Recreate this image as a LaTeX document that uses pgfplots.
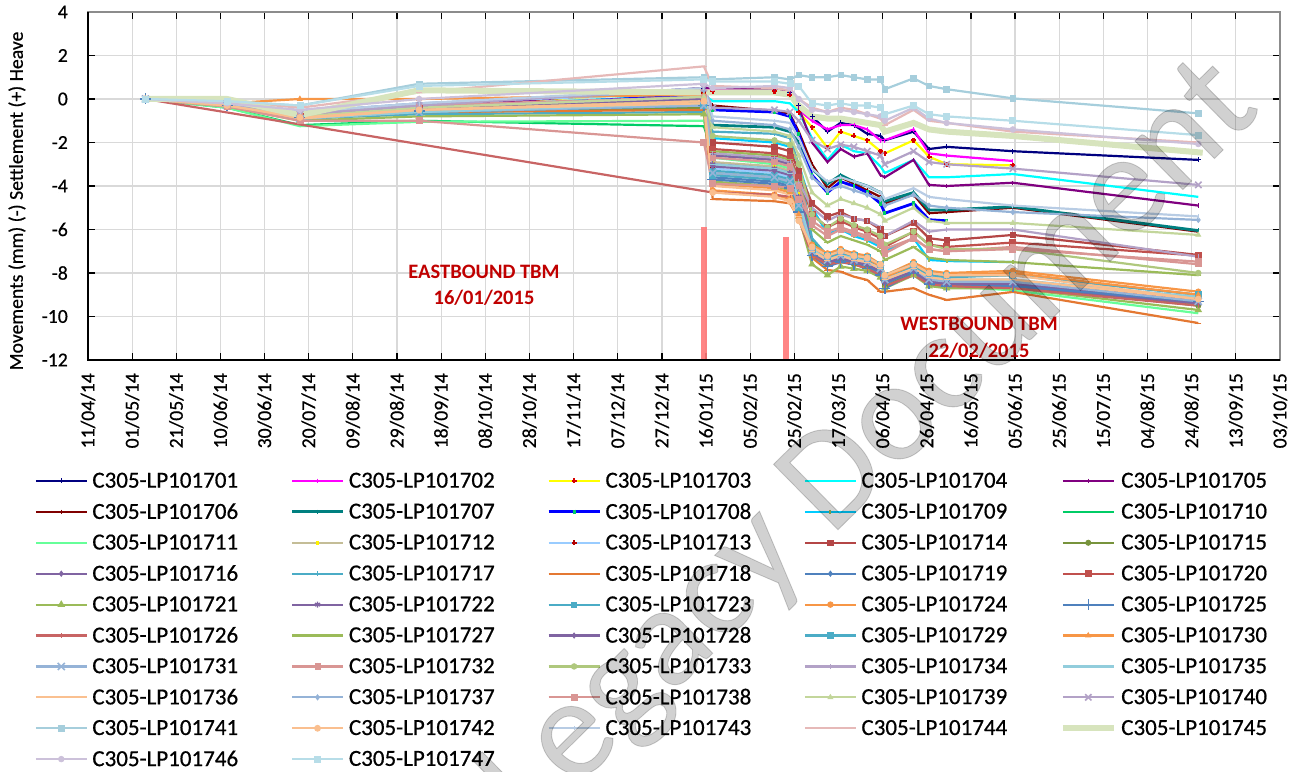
\documentclass[border=0pt]{standalone}
\usepackage{fontspec}
\setmainfont{Carlito}[UprightFeatures={FakeBold=0.6}]
\usepackage{pgfplots}
\pgfplotsset{compat=1.18}
\definecolor{c01}{RGB}{0,0,128}
\definecolor{c02}{RGB}{255,0,255}
\definecolor{c03}{RGB}{255,255,0}
\definecolor{c04}{RGB}{0,255,255}
\definecolor{c05}{RGB}{128,0,128}
\definecolor{c06}{RGB}{128,0,0}
\definecolor{c07}{RGB}{0,128,128}
\definecolor{c08}{RGB}{0,0,255}
\definecolor{c09}{RGB}{0,204,255}
\definecolor{c10}{RGB}{0,204,102}
\definecolor{c11}{RGB}{102,255,153}
\definecolor{c12}{RGB}{196,189,151}
\definecolor{c13}{RGB}{153,204,255}
\definecolor{c14}{RGB}{180,70,70}
\definecolor{c15}{RGB}{119,147,60}
\definecolor{c16}{RGB}{128,100,162}
\definecolor{c17}{RGB}{75,172,198}
\definecolor{c18}{RGB}{228,120,50}
\definecolor{c19}{RGB}{79,129,189}
\definecolor{c20}{RGB}{192,80,77}
\definecolor{c21}{RGB}{155,187,89}
\definecolor{c22}{RGB}{128,100,162}
\definecolor{c23}{RGB}{75,172,198}
\definecolor{c24}{RGB}{247,150,70}
\definecolor{c25}{RGB}{79,129,189}
\definecolor{c26}{RGB}{200,100,100}
\definecolor{c27}{RGB}{155,187,89}
\definecolor{c28}{RGB}{128,100,162}
\definecolor{c29}{RGB}{75,172,198}
\definecolor{c30}{RGB}{247,150,70}
\definecolor{c31}{RGB}{149,179,215}
\definecolor{c32}{RGB}{217,150,148}
\definecolor{c33}{RGB}{175,200,125}
\definecolor{c34}{RGB}{179,162,199}
\definecolor{c35}{RGB}{146,205,220}
\definecolor{c36}{RGB}{250,192,144}
\definecolor{c37}{RGB}{149,179,215}
\definecolor{c38}{RGB}{217,150,148}
\definecolor{c39}{RGB}{195,214,155}
\definecolor{c40}{RGB}{179,162,199}
\definecolor{c41}{RGB}{166,206,220}
\definecolor{c42}{RGB}{250,191,143}
\definecolor{c43}{RGB}{184,204,228}
\definecolor{c44}{RGB}{230,185,184}
\definecolor{c45}{RGB}{215,228,189}
\definecolor{c46}{RGB}{204,193,218}
\definecolor{c47}{RGB}{183,221,232}
\definecolor{gridc}{RGB}{217,217,217}
\definecolor{framec}{RGB}{140,140,140}
\definecolor{annot}{RGB}{192,0,0}
\definecolor{tbm}{RGB}{255,120,120}
\begin{document}
\begin{tikzpicture}[x=1pt,y=1pt]
\useasboundingbox (0,0) rectangle (1300,771);
\begin{axis}[
  at={(88pt,411pt)}, anchor=south west,
  scale only axis, width=1192pt, height=348pt,
  xmin=0, xmax=540, ymin=-12, ymax=4,
  xtick={0,20,...,540},
  xticklabels={11/04/14,01/05/14,21/05/14,10/06/14,30/06/14,20/07/14,09/08/14,29/08/14,18/09/14,08/10/14,28/10/14,17/11/14,07/12/14,27/12/14,16/01/15,05/02/15,25/02/15,17/03/15,06/04/15,26/04/15,16/05/15,05/06/15,25/06/15,15/07/15,04/08/15,24/08/15,13/09/15,03/10/15},
  ytick={-12,-10,...,4},
  yticklabels={-12,-10,-8,-6,-4,-2,0,2,4},
  grid=major,
  major grid style={draw=gridc, line width=1.2pt},
  tick align=inside, major tick length=7pt,
  tick style={draw=black, line width=1.2pt},
  axis line style={draw=framec, line width=1.5pt},
  xticklabel style={rotate=90, anchor=east, inner sep=0pt, font=\fontsize{19.7}{22}\selectfont},
  xticklabel shift=13pt,
  yticklabel style={anchor=east, inner sep=0pt, font=\fontsize{19.7}{22}\selectfont},
  yticklabel shift=20pt,
  ylabel={Movements (mm) (-) Settlement (+) Heave},
  every axis y label/.style={at={(axis description cs:-0.0596,0.457)}, rotate=90, anchor=center, font=\fontsize{19.7}{22}\selectfont},
  legend columns=5,
  legend cell align=left,
  legend style={at={(axis description cs:-0.0449,-0.319)}, anchor=north west, draw=none, fill=none, inner sep=0pt,
    font=\fontsize{23}{27}\selectfont, row sep=11.1pt, nodes={inner sep=1.5pt},
    /tikz/every odd column/.append style={column sep=3pt},
    /tikz/every even column/.append style={column sep=51pt}},
  legend image code/.code={\draw[mark repeat=2,mark phase=2,#1] plot coordinates {(0pt,0pt) (25.5pt,0pt) (51pt,0pt)};},
  every axis plot/.append style={line width=2.2pt, mark size=2.2pt, every mark/.append style={line width=0.8pt, solid}},
]
\addplot[c01, mark=+, mark size=2.5pt] coordinates {(26,0)(63,-0.2)(96,-0.7)(150,-0.3)(279,0.5)(283,0.5)(311,0.5)(318,0.3)(322,-0.3)(328,-0.8)(335,-1.5)(341,-1.1)(347,-1.2)(353,-1.6)(359,-1.7)(361,-1.9)(374,-1.5)(381,-2.3)(389,-2.2)(419,-2.4)(503,-2.8)};
\addlegendentry{C305-LP101701}
\addplot[c02, mark=|] coordinates {(26,0)(63,-0.2)(96,-0.7)(150,-0.3)(279,0.45)(283,0.45)(311,0.45)(318,0.3)(322,-0.5)(328,-1.0)(335,-1.4)(341,-1.2)(347,-1.2)(353,-1.4)(359,-1.9)(361,-1.9)(374,-1.4)(381,-2.5)(389,-2.6)(419,-2.85)};
\addlegendentry{C305-LP101702}
\addplot[c03, mark=+, mark size=2.5pt, mark options={draw=red!85!black}] coordinates {(26,0)(63,-0.25)(96,-0.75)(150,-0.35)(279,0.4)(283,0.35)(311,0.35)(318,0.2)(322,-0.6)(328,-1.3)(335,-2.25)(341,-1.5)(347,-1.7)(353,-1.9)(359,-2.4)(361,-2.5)(374,-1.9)(381,-2.65)(389,-3.0)(419,-3.05)};
\addlegendentry{C305-LP101703}
\addplot[c04, no markers] coordinates {(26,0)(63,-0.25)(96,-0.8)(150,-0.4)(279,0.2)(283,-0.1)(311,-0.1)(318,-0.2)(322,-0.6)(328,-1.8)(335,-2.8)(341,-2.1)(347,-2.4)(353,-2.5)(359,-3.1)(361,-3.4)(374,-2.8)(381,-3.6)(389,-3.6)(419,-3.45)(503,-4.5)};
\addlegendentry{C305-LP101704}
\addplot[c05, mark=|] coordinates {(26,0)(63,-0.25)(96,-0.8)(150,-0.4)(279,0.5)(283,0.5)(311,0.45)(318,0.3)(322,-0.4)(328,-2.0)(335,-2.9)(341,-2.3)(347,-2.65)(353,-2.5)(359,-3.5)(361,-3.6)(374,-2.8)(381,-3.95)(389,-4.0)(419,-3.85)(503,-4.9)};
\addlegendentry{C305-LP101705}
\addplot[c06, mark=|] coordinates {(26,0)(63,-0.25)(96,-0.8)(150,-0.5)(279,0.0)(283,-0.3)(311,-0.55)(318,-0.7)(322,-1.5)(328,-3.0)(335,-4.1)(341,-3.6)(347,-3.9)(353,-4.2)(359,-4.5)(361,-4.8)(374,-4.4)(381,-5.25)(389,-5.2)(419,-5.0)(503,-6.1)};
\addlegendentry{C305-LP101706}
\addplot[c07, line width=2.8pt, mark=|] coordinates {(26,0)(63,-0.3)(96,-0.9)(150,-0.6)(279,-0.4)(283,-1.2)(311,-1.3)(318,-1.5)(322,-2.0)(328,-3.2)(335,-3.9)(341,-3.5)(347,-3.8)(353,-4.0)(359,-4.3)(361,-4.7)(374,-4.3)(381,-5.1)(389,-5.1)(419,-4.95)(503,-6.05)};
\addlegendentry{C305-LP101707}
\addplot[c08, line width=2.8pt, mark=|, mark options={draw=c10}] coordinates {(26,0)(63,-0.3)(96,-0.85)(150,-0.5)(279,0.2)(283,-0.5)(311,-0.6)(318,-0.8)(322,-1.6)(328,-3.5)(335,-4.3)(341,-3.8)(347,-4.0)(353,-4.3)(359,-4.8)(361,-5.25)(374,-4.8)(381,-5.55)(389,-5.6)};
\addlegendentry{C305-LP101708}
\addplot[c09, mark=|, mark options={draw=c21}] coordinates {(26,0)(63,-0.3)(96,-0.9)(150,-0.6)(279,-0.2)(283,-1.8)(311,-2.0)(318,-2.2)(322,-3.0)(328,-5.0)(335,-6.2)(341,-6.0)(347,-6.3)(353,-6.5)(359,-6.8)(361,-7.0)(374,-6.4)(381,-7.4)(389,-7.45)(419,-7.5)};
\addlegendentry{C305-LP101709}
\addplot[c10, no markers] coordinates {(26,0)(63,-0.4)(96,-1.2)(150,-1.0)(279,-1.25)(283,-2.5)(311,-2.8)(318,-3.0)(322,-4.0)(328,-6.5)(335,-7.3)(341,-7.1)(347,-7.3)(353,-7.5)(359,-7.8)(361,-8.3)(374,-7.9)(381,-8.4)(389,-8.5)(419,-8.6)(503,-9.4)};
\addlegendentry{C305-LP101710}
\addplot[c11, no markers] coordinates {(26,0)(63,-0.4)(96,-1.25)(150,-1.05)(279,-1.0)(283,-2.7)(311,-3.0)(318,-3.2)(322,-4.2)(328,-6.8)(335,-7.5)(341,-7.3)(347,-7.5)(353,-7.7)(359,-8.0)(361,-8.5)(374,-8.0)(381,-8.5)(389,-8.6)(419,-8.8)(503,-9.85)};
\addlegendentry{C305-LP101711}
\addplot[c12, mark=|, mark options={draw=yellow}] coordinates {(26,0)(63,-0.3)(96,-0.9)(150,-0.5)(279,0.0)(283,-2.9)(311,-3.1)(318,-3.3)(322,-4.4)(328,-6.7)(335,-7.4)(341,-7.2)(347,-7.4)(353,-7.6)(359,-7.9)(361,-8.4)(374,-7.9)(381,-8.3)(389,-8.4)(419,-8.5)(503,-9.1)};
\addlegendentry{C305-LP101712}
\addplot[c13, mark=+, mark size=2.5pt, mark options={draw=red!70!black}] coordinates {(26,0)(63,-0.2)(96,-0.6)(150,-0.2)(279,0.3)(283,-3.2)(311,-3.4)(318,-3.6)(322,-4.6)(328,-6.9)(335,-7.5)(341,-7.3)(347,-7.5)(353,-7.6)(359,-7.9)(361,-8.5)(374,-8.0)(381,-8.5)(389,-8.6)(419,-8.6)(503,-9.2)};
\addlegendentry{C305-LP101713}
\addplot[c14, mark=square*, mark size=2.6pt] coordinates {(26,0)(63,-0.25)(96,-0.8)(150,-0.5)(279,-0.3)(283,-2.0)(311,-2.2)(318,-2.4)(322,-3.3)(328,-4.8)(335,-5.4)(341,-5.2)(347,-5.5)(353,-5.6)(359,-6.0)(361,-6.3)(374,-5.7)(381,-6.4)(389,-6.5)(419,-6.25)(503,-7.17)};
\addlegendentry{C305-LP101714}
\addplot[c15, mark=*, mark size=2.6pt] coordinates {(26,0)(63,-0.3)(96,-0.9)(150,-0.6)(279,-0.4)(283,-3.4)(311,-3.6)(318,-3.8)(322,-4.8)(328,-7.0)(335,-7.6)(341,-7.4)(347,-7.6)(353,-7.7)(359,-8.0)(361,-8.6)(374,-8.0)(381,-8.5)(389,-8.6)(419,-8.6)(503,-9.5)};
\addlegendentry{C305-LP101715}
\addplot[c16, mark=diamond*, mark size=2.6pt] coordinates {(26,0)(63,-0.3)(96,-0.85)(150,-0.4)(279,0.0)(283,-2.6)(311,-2.8)(318,-3.0)(322,-4.0)(328,-6.8)(335,-7.3)(341,-7.1)(347,-7.3)(353,-7.5)(359,-7.8)(361,-8.3)(374,-7.8)(381,-8.3)(389,-8.4)(419,-8.5)(503,-9.3)};
\addlegendentry{C305-LP101716}
\addplot[c17, mark=|] coordinates {(26,0)(63,-0.3)(96,-0.9)(150,-0.7)(279,-0.6)(283,-1.5)(311,-1.6)(318,-1.8)(322,-3.0)(328,-6.4)(335,-7.2)(341,-7.0)(347,-7.2)(353,-7.4)(359,-7.7)(361,-8.2)(374,-7.7)(381,-8.2)(389,-8.3)(419,-8.4)(503,-9.2)};
\addlegendentry{C305-LP101717}
\addplot[c18, mark=-, mark size=3pt] coordinates {(26,0)(63,-0.3)(96,-0.9)(150,-0.6)(279,-0.5)(283,-4.6)(311,-4.7)(318,-4.8)(322,-5.5)(328,-7.3)(335,-7.86)(341,-7.94)(347,-8.17)(353,-8.32)(359,-8.86)(361,-8.86)(374,-8.7)(381,-9.0)(389,-9.24)(419,-8.87)(503,-10.3)};
\addlegendentry{C305-LP101718}
\addplot[c19, mark=diamond*, mark size=2.6pt] coordinates {(26,0)(63,-0.3)(96,-0.85)(150,-0.5)(279,-0.2)(283,-3.6)(311,-3.8)(318,-4.0)(322,-5.0)(328,-7.1)(335,-7.6)(341,-7.4)(347,-7.5)(353,-7.7)(359,-8.0)(361,-8.5)(374,-7.9)(381,-8.4)(389,-8.5)(419,-8.6)(503,-9.3)};
\addlegendentry{C305-LP101719}
\addplot[c20, mark=square*, mark size=3pt] coordinates {(26,0)(63,-0.25)(96,-0.8)(150,-0.45)(279,-0.2)(283,-2.3)(311,-2.5)(318,-2.7)(322,-3.6)(328,-5.3)(335,-5.9)(341,-5.6)(347,-5.9)(353,-6.1)(359,-6.4)(361,-6.8)(374,-6.1)(381,-6.7)(389,-6.8)(419,-6.6)(503,-7.2)};
\addlegendentry{C305-LP101720}
\addplot[c21, mark=triangle*, mark size=3.6pt] coordinates {(26,0)(63,-0.35)(96,-1.0)(150,-0.8)(279,-0.7)(283,-3.8)(311,-4.0)(318,-4.2)(322,-5.4)(328,-7.6)(335,-8.1)(341,-7.7)(347,-7.8)(353,-7.9)(359,-8.2)(361,-8.7)(374,-8.1)(381,-8.6)(389,-8.7)(419,-8.7)(503,-9.7)};
\addlegendentry{C305-LP101721}
\addplot[c22, mark=asterisk, mark size=3pt, mark options={line width=1.4pt}] coordinates {(26,0)(63,-0.3)(96,-0.85)(150,-0.5)(279,-0.1)(283,-3.0)(311,-3.2)(318,-3.4)(322,-4.5)(328,-6.9)(335,-7.5)(341,-7.3)(347,-7.5)(353,-7.6)(359,-7.9)(361,-8.4)(374,-7.9)(381,-8.4)(389,-8.5)(419,-8.6)(503,-9.4)};
\addlegendentry{C305-LP101722}
\addplot[c23, mark=square*, mark size=2.6pt] coordinates {(26,0)(63,-0.3)(96,-0.9)(150,-0.6)(279,-0.3)(283,-3.3)(311,-3.5)(318,-3.7)(322,-4.8)(328,-6.8)(335,-7.3)(341,-7.1)(347,-7.3)(353,-7.4)(359,-7.7)(361,-8.2)(374,-7.7)(381,-8.1)(389,-8.2)(419,-8.1)(503,-9.0)};
\addlegendentry{C305-LP101723}
\addplot[c24, mark=*, mark size=2.8pt] coordinates {(26,0)(63,-0.3)(96,-0.8)(150,-0.5)(279,-0.2)(283,-4.2)(311,-4.4)(318,-4.6)(322,-5.5)(328,-6.7)(335,-7.1)(341,-6.9)(347,-7.1)(353,-7.2)(359,-7.6)(361,-8.1)(374,-7.5)(381,-7.9)(389,-8.0)(419,-7.9)(503,-8.86)};
\addlegendentry{C305-LP101724}
\addplot[c25, mark=+, mark size=5.5pt, mark options={line width=1.4pt}] coordinates {(26,0)(63,-0.3)(96,-0.85)(150,-0.55)(279,-0.3)(283,-3.7)(311,-3.9)(318,-4.1)(322,-5.2)(328,-7.2)(335,-7.7)(341,-7.5)(347,-7.6)(353,-7.8)(359,-8.1)(361,-8.7)(374,-8.0)(381,-8.5)(389,-8.6)(419,-8.6)(503,-9.3)};
\addlegendentry{C305-LP101725}
\addplot[c26, mark=|] coordinates {(26,0)(283,-4.3)(311,-4.4)(318,-4.5)(322,-5.5)(328,-7.2)(335,-7.6)(341,-7.5)(347,-7.6)(353,-7.8)(359,-8.1)(361,-8.6)(374,-8.1)(381,-8.5)(389,-8.6)(419,-8.7)(503,-9.5)};
\addlegendentry{C305-LP101726}
\addplot[c27, mark=-, mark size=3pt] coordinates {(26,0)(63,-0.3)(96,-0.85)(150,-0.5)(279,-0.2)(283,-2.4)(311,-2.6)(318,-2.8)(322,-3.8)(328,-6.0)(335,-6.6)(341,-6.3)(347,-6.5)(353,-6.7)(359,-7.0)(361,-7.4)(374,-6.8)(381,-7.3)(389,-7.4)(419,-7.5)(503,-8.1)};
\addlegendentry{C305-LP101727}
\addplot[c28, mark=diamond*, mark size=2.6pt] coordinates {(26,0)(63,-0.3)(96,-0.85)(150,-0.5)(279,-0.1)(283,-3.1)(311,-3.3)(318,-3.5)(322,-4.6)(328,-7.0)(335,-7.5)(341,-7.3)(347,-7.4)(353,-7.6)(359,-7.9)(361,-8.4)(374,-7.9)(381,-8.4)(389,-8.5)(419,-8.5)(503,-9.2)};
\addlegendentry{C305-LP101728}
\addplot[c29, mark=square*, mark size=3pt] coordinates {(26,0)(63,-0.3)(96,-0.9)(150,-0.6)(279,-0.3)(283,-3.5)(311,-3.7)(318,-3.9)(322,-5.0)(328,-6.9)(335,-7.2)(341,-7.0)(347,-7.2)(353,-7.3)(359,-7.6)(361,-8.1)(374,-7.6)(381,-8.0)(389,-8.1)(419,-8.1)(503,-9.0)};
\addlegendentry{C305-LP101729}
\addplot[c30, mark=triangle*, mark size=2.8pt] coordinates {(26,0)(63,-0.2)(96,0.0)(150,0.0)(279,0.2)(283,-3.9)(311,-4.1)(318,-4.3)(322,-5.3)(328,-6.9)(335,-7.2)(341,-7.0)(347,-7.2)(353,-7.3)(359,-7.7)(361,-8.2)(374,-7.6)(381,-8.0)(389,-8.1)(419,-8.0)(503,-9.0)};
\addlegendentry{C305-LP101730}
\addplot[c31, mark=x, mark size=5pt, mark options={line width=1.6pt}] coordinates {(26,0)(63,-0.3)(96,-0.9)(150,-0.6)(279,-0.3)(283,-3.4)(311,-3.6)(318,-3.8)(322,-4.9)(328,-7.0)(335,-7.4)(341,-7.2)(347,-7.4)(353,-7.5)(359,-7.8)(361,-8.3)(374,-7.8)(381,-8.3)(389,-8.4)(419,-8.4)(503,-9.3)};
\addlegendentry{C305-LP101731}
\addplot[c32, mark=square*, mark size=2.6pt] coordinates {(26,0)(63,-0.2)(96,-0.7)(150,-0.3)(279,0.1)(283,-2.7)(311,-2.9)(318,-3.1)(322,-4.0)(328,-5.8)(335,-6.3)(341,-6.0)(347,-6.2)(353,-6.4)(359,-6.7)(361,-7.1)(374,-6.4)(381,-6.9)(389,-7.0)(419,-6.8)(503,-7.6)};
\addlegendentry{C305-LP101732}
\addplot[c33, mark=*, mark size=2.8pt] coordinates {(26,0)(63,-0.3)(96,-0.85)(150,-0.5)(279,-0.1)(283,-1.7)(311,-1.9)(318,-2.1)(322,-3.0)(328,-5.3)(335,-5.9)(341,-5.5)(347,-5.8)(353,-6.0)(359,-6.3)(361,-6.7)(374,-6.1)(381,-6.7)(389,-6.9)(419,-6.9)(503,-8.0)};
\addlegendentry{C305-LP101733}
\addplot[c34, mark=|] coordinates {(26,0)(63,-0.25)(96,-0.8)(150,-0.4)(279,0.1)(283,-2.5)(311,-2.7)(318,-2.9)(322,-3.8)(328,-5.0)(335,-5.6)(341,-5.3)(347,-5.5)(353,-5.6)(359,-5.9)(361,-6.3)(374,-5.6)(381,-6.1)(389,-6.0)(419,-6.0)(503,-7.25)};
\addlegendentry{C305-LP101734}
\addplot[c35, mark=-, mark size=3pt] coordinates {(26,0)(63,-0.3)(96,-0.9)(150,-0.6)(279,-0.2)(283,-3.0)(311,-3.2)(318,-3.4)(322,-4.6)(328,-6.9)(335,-7.4)(341,-7.2)(347,-7.3)(353,-7.5)(359,-7.8)(361,-8.3)(374,-7.8)(381,-8.2)(389,-8.3)(419,-8.3)(503,-9.1)};
\addlegendentry{C305-LP101735}
\addplot[c36, mark=-, mark size=3pt] coordinates {(26,0)(63,-0.3)(96,-0.9)(150,-0.5)(279,-0.2)(283,-4.0)(311,-4.2)(318,-4.4)(322,-5.4)(328,-7.0)(335,-7.4)(341,-7.2)(347,-7.4)(353,-7.5)(359,-7.8)(361,-8.3)(374,-7.8)(381,-8.2)(389,-8.3)(419,-8.3)(503,-9.2)};
\addlegendentry{C305-LP101736}
\addplot[c37, mark=diamond*, mark size=2.6pt] coordinates {(26,0)(63,-0.2)(96,-0.6)(150,-0.2)(279,0.4)(283,-1.0)(311,-1.2)(318,-1.4)(322,-2.2)(328,-3.6)(335,-4.2)(341,-4.0)(347,-4.2)(353,-4.4)(359,-4.6)(361,-4.9)(374,-4.4)(381,-4.9)(389,-5.0)(419,-5.2)(503,-5.56)};
\addlegendentry{C305-LP101737}
\addplot[c38, mark=square*, mark size=3pt] coordinates {(26,0)(63,-0.35)(96,-1.0)(150,-1.0)(279,-2.0)(283,-3.9)(311,-4.0)(318,-4.1)(322,-4.6)(328,-5.6)(335,-6.1)(341,-5.9)(347,-6.1)(353,-6.3)(359,-6.6)(361,-6.9)(374,-6.4)(381,-6.9)(389,-7.0)(419,-6.9)(503,-7.48)};
\addlegendentry{C305-LP101738}
\addplot[c39, mark=triangle*, mark size=2.8pt] coordinates {(26,0)(63,-0.3)(96,-0.8)(150,-0.4)(279,0.1)(283,-1.3)(311,-1.5)(318,-1.7)(322,-2.6)(328,-4.3)(335,-4.9)(341,-4.6)(347,-4.8)(353,-5.0)(359,-5.3)(361,-5.6)(374,-5.0)(381,-5.6)(389,-5.7)(419,-5.7)(503,-6.25)};
\addlegendentry{C305-LP101739}
\addplot[c40, mark=x, mark size=4.5pt, mark options={line width=1.6pt}] coordinates {(26,0)(63,-0.2)(96,-0.7)(150,-0.3)(279,0.5)(283,-0.4)(311,-0.5)(318,-0.6)(322,-1.0)(328,-1.9)(335,-2.3)(341,-2.1)(347,-2.2)(353,-2.4)(359,-2.6)(361,-3.0)(374,-2.4)(381,-2.9)(389,-3.0)(419,-3.2)(503,-3.95)};
\addlegendentry{C305-LP101740}
\addplot[c41, mark=square*, mark size=2.8pt] coordinates {(26,0)(63,-0.1)(96,-0.3)(150,0.7)(279,1.0)(283,0.9)(311,1.0)(318,0.9)(322,1.1)(328,1.0)(335,1.0)(341,1.1)(347,1.0)(353,0.9)(359,0.9)(361,0.45)(374,0.95)(381,0.6)(389,0.45)(419,0.03)(503,-0.66)};
\addlegendentry{C305-LP101741}
\addplot[c42, mark=*, mark size=3pt] coordinates {(26,0)(63,-0.3)(96,-0.85)(150,-0.5)(279,-0.1)(283,-4.3)(311,-4.5)(318,-4.7)(322,-5.6)(328,-6.8)(335,-7.2)(341,-7.0)(347,-7.2)(353,-7.3)(359,-7.6)(361,-8.1)(374,-7.6)(381,-8.0)(389,-8.1)(419,-8.1)(503,-9.2)};
\addlegendentry{C305-LP101742}
\addplot[c43, mark=|] coordinates {(26,0)(63,-0.2)(96,-0.6)(150,-0.2)(279,0.5)(283,-0.8)(311,-1.0)(318,-1.1)(322,-1.8)(328,-3.2)(335,-3.8)(341,-3.6)(347,-3.8)(353,-4.0)(359,-4.3)(361,-4.6)(374,-4.1)(381,-4.5)(389,-4.6)(419,-4.9)(503,-5.4)};
\addlegendentry{C305-LP101743}
\addplot[c44, mark=-, mark size=3pt] coordinates {(26,0)(63,-0.1)(96,-0.4)(150,0.3)(279,1.5)(283,0.6)(311,0.5)(318,0.4)(322,0.0)(328,-0.4)(335,-0.6)(341,-0.4)(347,-0.5)(353,-0.7)(359,-0.9)(361,-1.2)(374,-0.5)(381,-1.0)(389,-1.1)(419,-1.5)(503,-2.0)};
\addlegendentry{C305-LP101744}
\addplot[c45, line width=6pt, no markers] coordinates {(26,0)(63,0.0)(96,-0.74)(150,0.4)(279,0.3)(283,0.3)(311,0.3)(318,0.2)(322,-0.3)(328,-0.8)(335,-0.9)(341,-0.9)(347,-1.0)(353,-1.1)(359,-1.2)(361,-1.5)(374,-1.1)(381,-1.4)(389,-1.5)(419,-1.7)(505,-2.47)};
\addlegendentry{C305-LP101745}
\addplot[c46, mark=*, mark size=2.8pt] coordinates {(26,0)(63,-0.2)(96,-0.5)(150,0.0)(279,0.7)(283,0.5)(311,0.6)(318,0.5)(322,0.0)(328,-0.5)(335,-0.6)(341,-0.5)(347,-0.6)(353,-0.7)(359,-0.8)(361,-1.0)(374,-0.4)(381,-0.9)(389,-1.1)(419,-1.4)(503,-2.07)};
\addlegendentry{C305-LP101746}
\addplot[c47, mark=square*, mark size=3pt] coordinates {(26,0)(63,-0.1)(96,-0.3)(150,0.6)(279,0.9)(283,0.8)(311,0.8)(318,0.7)(322,0.6)(328,-0.2)(335,-0.3)(341,-0.2)(347,-0.3)(353,-0.3)(359,-0.4)(361,-0.7)(374,-0.3)(381,-0.7)(389,-0.8)(419,-1.0)(503,-1.66)};
\addlegendentry{C305-LP101747}
\addplot[forget plot, tbm, line width=6pt, no markers, opacity=0.9] coordinates {(279,-5.9)(279,-12)};
\addplot[forget plot, tbm, line width=6pt, no markers, opacity=0.9] coordinates {(316,-6.34)(316,-12)};
\end{axis}
\draw[black, line width=2.6pt] (88,759) -- (88,411) -- (1280,411);
\node[font=\bfseries\fontsize{20.5}{26}\selectfont, text=annot, align=center] at (484,486) {EASTBOUND TBM\\16/01/2015};
\node[font=\bfseries\fontsize{20.5}{27}\selectfont, text=annot, align=center] at (979,433) {WESTBOUND TBM\\22/02/2015};
\node[rotate=44.6, font=\fontsize{143}{143}\selectfont, text=black, opacity=0.18] at (873,323) {Legacy Document};
\end{tikzpicture}
\end{document}
